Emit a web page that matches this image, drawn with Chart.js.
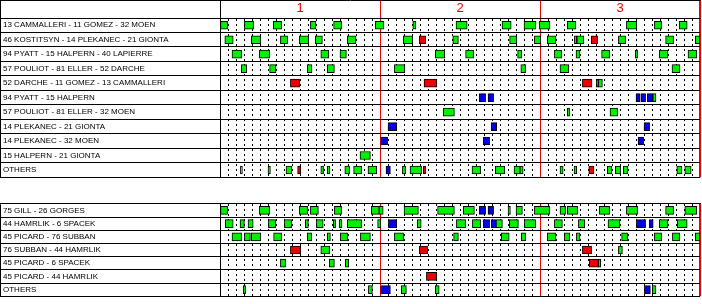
<!DOCTYPE html>
<html>
<head>
<meta charset="utf-8">
<script src="https://cdn.jsdelivr.net/npm/chart.js@4.4.1/dist/chart.umd.min.js"></script>
<style>
  html, body { margin: 0; padding: 0; background: #fff; }
  #wrap { position: relative; width: 702px; height: 304px; }
  canvas { position: absolute; left: 0; }
</style>
</head>
<body>
<div id="wrap">
  <canvas id="top" width="702" height="185" style="top:0"></canvas>
  <canvas id="bottom" width="702" height="108" style="top:196px"></canvas>
</div>
<script>
// period numbers shown in the header
const periodLabels = ["1", "2", "3"];

// forward line combinations
const topLabels = [
  "13 CAMMALLERI - 11 GOMEZ - 32 MOEN",
  "46 KOSTITSYN - 14 PLEKANEC - 21 GIONTA",
  "94 PYATT - 15 HALPERN - 40 LAPIERRE",
  "57 POULIOT - 81 ELLER - 52 DARCHE",
  "52 DARCHE - 11 GOMEZ - 13 CAMMALLERI",
  "94 PYATT - 15 HALPERN",
  "57 POULIOT - 81 ELLER - 32 MOEN",
  "14 PLEKANEC - 21 GIONTA",
  "14 PLEKANEC - 32 MOEN",
  "15 HALPERN - 21 GIONTA",
  "OTHERS"
];

// shifts: [row, start minute, end minute]
const topGreen = [
  [0,0,0.95],[0,3.05,4.2],[0,6.65,7.7],[0,11.3,12],[0,14.2,15.2],[0,19.4,20.5],[0,24.1,24.5],[0,29.5,30.9],
  [0,35.25,36.4],[0,38,39.5],[0,39.9,41.25],[0,43.4,44.5],[0,50.8,52.1],[0,54.3,55.2],[0,57.4,58.4],
  [1,0.6,1.65],[1,3.9,5.1],[1,7.55,8.45],[1,9.9,11.1],[1,11.9,12.8],[1,15.9,17],[1,22.9,24.1],[1,29.1,29.8],
  [1,36.2,37.1],[1,39.3,40.1],[1,40.9,42],[1,44.3,44.6],[1,44.6,45.5],[1,49.8,50.7],[1,55.7,56.7],[1,59.4,60],
  [2,1.5,2.7],[2,4.9,6.2],[2,12.6,13.6],[2,15,15.8],[2,26.9,28.1],[2,30.7,31.7],[2,37.2,37.7],[2,41.8,42.7],
  [2,44.5,45],[2,47.7,48.7],[2,51.9,52.2],[2,54.9,56],[2,58.5,59.6],
  [3,2.65,3.35],[3,6.2,7],[3,10.9,11.5],[3,13.4,14.3],[3,21.8,23.1],[3,37.6,38.2],[3,42.5,43.6],[3,56.5,57.5],
  [4,47.3,47.8],
  [5,54.1,54.5],
  [6,27.9,29.3],[6,43.4,43.7],[6,48.75,49.7],
  [9,17.5,18.8],
  [10,2.55,2.8],[10,6,6.3],[10,8.25,9],[10,12.6,12.95],[10,13.4,13.75],[10,15.6,16.2],[10,16.7,17.7],
  [10,18.5,19.6],[10,22.8,23.2],[10,23.75,25.2],[10,31.5,32.6],[10,34.4,35.6],[10,36.75,37.5],[10,37.5,37.9],
  [10,42.5,42.9],[10,44.25,44.6],[10,48.4,49],[10,49.4,50.1],[10,50.4,51],[10,57.1,57.75],[10,58.1,58.9]
];
const topRed = [
  [1,24.9,25.7],[1,46.4,47.2],
  [4,8.8,9.95],[4,25.5,27.1],[4,45.3,46.5],[4,47.05,47.3],
  [10,9.7,10.1],[10,25.4,25.7],[10,46.1,46.75]
];
const topBlue = [
  [5,32.4,33.2],[5,33.5,34.2],[5,52,52.5],[5,52.6,53.2],[5,53.4,54.1],
  [7,21,22.1],[7,33.9,34.6],[7,53,53.7],
  [8,20.1,20.95],[8,32.9,33.7],[8,52.25,52.95],
  [10,20.75,21.3]
];

// defence pairs
const bottomLabels = [
  "75 GILL - 26 GORGES",
  "44 HAMRLIK - 6 SPACEK",
  "45 PICARD - 76 SUBBAN",
  "76 SUBBAN - 44 HAMRLIK",
  "45 PICARD - 6 SPACEK",
  "45 PICARD - 44 HAMRLIK",
  "OTHERS"
];
const bottomGreen = [
  [0,0,0.95],[0,4.9,6.2],[0,9.9,10.95],[0,11.3,12.3],[0,14.3,15.2],[0,18.9,19.9],[0,19.9,20.4],[0,23,24.8],
  [0,27.2,29.3],[0,30.4,31.8],[0,36,36.3],[0,37,37.8],[0,39.3,41.2],[0,42.5,43.2],[0,43.4,44.7],[0,47.4,48.7],
  [0,50.8,52.2],[0,55.7,56.7],[0,58.1,59.6],
  [1,0.65,1.65],[1,2.5,3.05],[1,3.5,4.15],[1,6.05,6.95],[1,8.05,8.95],[1,10.65,11.05],[1,12.05,12.9],
  [1,14.15,14.45],[1,14.9,15.25],[1,15.9,17.7],[1,19.7,20.1],[1,24.65,25.15],[1,29.55,30.7],[1,31.55,32.6],
  [1,34.5,35.3],[1,36.15,37.3],[1,38.05,39.45],[1,41.8,42.8],[1,44.8,45.6],[1,48.5,50],[1,54.9,56],[1,57.15,58.4],
  [2,1.5,2.7],[2,3.05,3.8],[2,3.9,5.1],[2,6.7,7.7],[2,10.9,11.45],[2,13.4,13.8],[2,15.05,15.95],[2,17.55,18.8],
  [2,21.8,22.95],[2,29.2,29.8],[2,35.15,36.15],[2,37.65,38.2],[2,40.9,42],[2,43.05,43.7],[2,44.55,45],
  [2,50.2,50.95],[2,54.3,55.2],[2,56.55,57.45],[2,59.4,60],
  [3,12.6,13.7],[3,49.8,50.3],
  [4,7.55,8.2],[4,13.65,14.3],[4,15.65,16.1],[4,47.3,47.6],
  [6,2.9,3.2],[6,18.55,19.05],[6,22.65,23.3],[6,26.9,27.4],[6,54.05,54.5]
];
const bottomRed = [
  [3,8.8,10.1],[3,24.9,25.95],[3,45.3,46.45],
  [4,46.15,47.3],
  [5,25.8,27.1]
];
const bottomBlue = [
  [0,32.4,33.2],[0,33.5,34.2],
  [1,21.05,22.1],[1,32.9,33.7],[1,33.9,34.5],[1,52.05,53.2],[1,53.65,54.15],
  [6,20.1,21.3],[6,53.05,53.8]
];

const GREEN = "#00f000";
const RED = "#ee0000";
const BLUE = "#0000ee";
const LINE_RED = "#ee0000";

Chart.defaults.font.family = "'Liberation Sans', Arial, sans-serif";
Chart.defaults.animation = false;

// outer frame of each table
const frame = {
  id: "frame",
  afterDraw(chart, args, opts) {
    const { ctx, chartArea } = chart;
    ctx.save();
    ctx.strokeStyle = "#000";
    ctx.lineWidth = 1;
    ctx.beginPath();
    const top = opts.header ? 0 : chartArea.top;
    ctx.moveTo(0.5, top + 0.5);
    ctx.lineTo(0.5, chartArea.bottom + 0.5);
    if (opts.header) {
      ctx.moveTo(0, 0.5);
      ctx.lineTo(701, 0.5);
    }
    ctx.stroke();
    ctx.restore();
  }
};

function toBars(list, labels) {
  return list.map(([r, s, e]) => ({ y: labels[r], x: [s, e] }));
}

function makeSet(list, labels, color) {
  return {
    data: toBars(list, labels),
    backgroundColor: color,
    borderColor: "#000",
    borderWidth: 1,
    borderSkipped: false,
    barThickness: 8,
    grouped: false
  };
}

function isPeriod(v) { return v % 20 === 0; }

function makeChart(id, labels, green, red, blue, header) {
  return new Chart(document.getElementById(id), {
    type: "bar",
    data: {
      labels: labels,
      datasets: [
        makeSet(blue, labels, BLUE),
        makeSet(red, labels, RED),
        makeSet(green, labels, GREEN)
      ]
    },
    plugins: [frame],
    options: {
      indexAxis: "y",
      responsive: false,
      layout: { autoPadding: false, padding: { left: 3, right: 2, top: header ? 0 : 1, bottom: 2 } },
      plugins: {
        legend: { display: false },
        tooltip: { enabled: false },
        frame: { header: header }
      },
      scales: {
        x: {
          type: "linear",
          position: "top",
          min: 0,
          max: 60,
          afterFit: (s) => { s.height = header ? 18 : 0; },
          ticks: {
            display: header,
            stepSize: 1,
            autoSkip: false,
            maxRotation: 0,
            padding: -16.5,
            color: LINE_RED,
            font: { size: 13 },
            callback: (v) => (v % 20 === 10 ? periodLabels[(v - 10) / 20] : "")
          },
          grid: {
            drawTicks: header,
            tickLength: 18,
            color: (c) => (c.tick && isPeriod(c.tick.value) ? (c.tick.value === 0 ? "#000" : LINE_RED) : "#000"),
            lineWidth: (c) => (c.tick && c.tick.value === 60 ? 2 : 1),
            tickColor: (c) => (c.tick && isPeriod(c.tick.value) ? (c.tick.value === 0 ? "#000" : LINE_RED) : "rgba(0,0,0,0)"),
            tickWidth: (c) => (c.tick && c.tick.value === 60 ? 2 : 1)
          },
          border: {
            color: "#000",
            dash: (c) => (c.tick && !isPeriod(c.tick.value) ? [2, 3] : [])
          }
        },
        y: {
          type: "category",
          offset: true,
          afterFit: (s) => { s.width = 217; },
          ticks: {
            crossAlign: "far",
            autoSkip: false,
            color: "#000",
            font: { size: 8 }
          },
          grid: {
            offset: true,
            color: "#000",
            tickColor: "#000",
            tickLength: 220
          },
          border: { color: "#000" }
        }
      }
    }
  });
}

makeChart("top", topLabels, topGreen, topRed, topBlue, true);
makeChart("bottom", bottomLabels, bottomGreen, bottomRed, bottomBlue, false);
</script>
</body>
</html>
